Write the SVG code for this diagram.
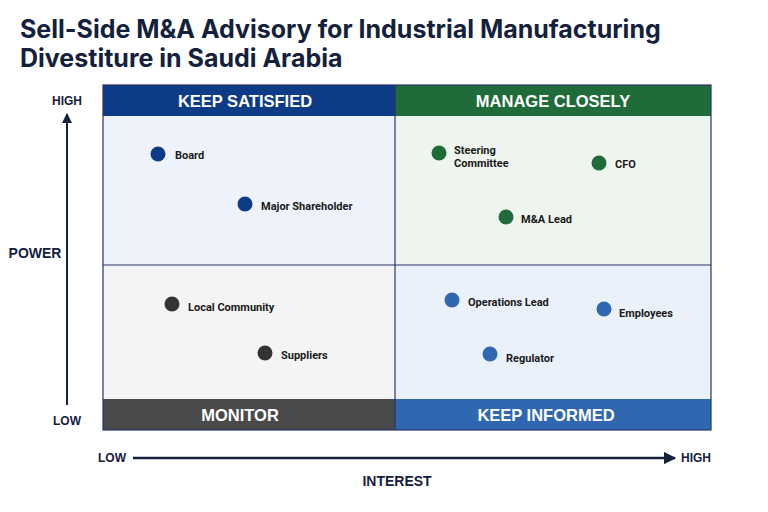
<svg xmlns="http://www.w3.org/2000/svg" width="768" height="512" viewBox="0 0 768 512">
<defs>
<style>
.t{font-family:"Liberation Sans",Arial,sans-serif;font-weight:bold}
.title{font-family:Inter,"Liberation Sans",sans-serif;font-size:25px;fill:#14213d;font-weight:bold}
.hdr{font-size:16.5px;fill:#fff;text-anchor:middle}
.lbl{font-family:Roboto,"Liberation Sans",sans-serif;font-size:11px;fill:#1a1a1a;font-weight:bold}
.ax{font-size:14px;fill:#14213d}
.axs{font-size:12px;fill:#14213d;text-anchor:middle}
.grid{stroke:#2a3566;stroke-width:1.2;fill:none}
</style>
<marker id="ah" viewBox="0 0 10 10" refX="9" refY="5" markerWidth="5" markerHeight="5" orient="auto">
<path d="M0,0 L10,5 L0,10 z" fill="#14213d"/>
</marker>
</defs>
<rect width="768" height="512" fill="#fff"/>
<text class="title" x="20" y="38">Sell-Side M&amp;A Advisory for Industrial Manufacturing</text>
<text class="title" x="20" y="67">Divestiture in Saudi Arabia</text>

<g id="quadrants">
<rect x="103" y="85" width="292" height="180" fill="#eef3fb"/>
<rect x="395" y="85" width="316" height="180" fill="#eef5ee"/>
<rect x="103" y="265" width="292" height="165" fill="#f4f4f4"/>
<rect x="395" y="265" width="316" height="165" fill="#eaf1fa"/>
<rect x="103" y="85" width="292" height="31" fill="#0d3b85"/>
<rect x="395" y="85" width="316" height="31" fill="#1f6b3a"/>
<rect x="103" y="399" width="292" height="31" fill="#4a4a4a"/>
<rect x="395" y="399" width="316" height="31" fill="#2f67b1"/>
<line class="grid" x1="103" y1="265" x2="711" y2="265"/>
<line class="grid" x1="395" y1="85" x2="395" y2="430"/>
<rect class="grid" x="103" y="85" width="608" height="345" stroke-width="1"/>
<text class="t hdr" x="245" y="107">KEEP SATISFIED</text>
<text class="t hdr" x="553" y="107">MANAGE CLOSELY</text>
<text class="t hdr" x="240" y="421">MONITOR</text>
<text class="t hdr" x="546" y="421">KEEP INFORMED</text>
</g>

<g id="connectors">
<line x1="67" y1="405" x2="67" y2="114" stroke="#14213d" stroke-width="2" marker-end="url(#ah)"/>
<line x1="133" y1="458" x2="675" y2="458" stroke="#14213d" stroke-width="2.5" marker-end="url(#ah)"/>
</g>
<text class="t axs" x="67" y="105">HIGH</text>
<text class="t axs" x="67" y="425">LOW</text>
<text class="t ax" x="35" y="258" text-anchor="middle">POWER</text>
<text class="t axs" x="112" y="462">LOW</text>
<text class="t axs" x="696" y="462">HIGH</text>
<text class="t ax" x="397" y="486" text-anchor="middle">INTEREST</text>

<g id="board"><circle cx="158" cy="154" r="7.5" fill="#0d3b85"/><text class="lbl" x="175" y="159">Board</text></g>
<g id="major-shareholder"><circle cx="245" cy="204" r="7.5" fill="#0d3b85"/><text class="lbl" x="261" y="210">Major Shareholder</text></g>
<g id="steering-committee"><circle cx="439" cy="153" r="7.5" fill="#1f6b3a"/><text class="lbl" x="454" y="154">Steering</text><text class="lbl" x="454" y="167">Committee</text></g>
<g id="cfo"><circle cx="599" cy="163" r="7.5" fill="#1f6b3a"/><text class="lbl" x="615" y="168">CFO</text></g>
<g id="ma-lead"><circle cx="506" cy="217" r="7.5" fill="#1f6b3a"/><text class="lbl" x="521" y="223">M&amp;A Lead</text></g>
<g id="local-community"><circle cx="172" cy="304" r="7.5" fill="#333"/><text class="lbl" x="188" y="311">Local Community</text></g>
<g id="suppliers"><circle cx="265" cy="353" r="7.5" fill="#333"/><text class="lbl" x="281" y="359">Suppliers</text></g>
<g id="operations-lead"><circle cx="452" cy="300" r="7.5" fill="#2f67b1"/><text class="lbl" x="468" y="306">Operations Lead</text></g>
<g id="employees"><circle cx="604" cy="309" r="7.5" fill="#2f67b1"/><text class="lbl" x="619" y="317">Employees</text></g>
<g id="regulator"><circle cx="490" cy="354" r="7.5" fill="#2f67b1"/><text class="lbl" x="506" y="362">Regulator</text></g>
</svg>
